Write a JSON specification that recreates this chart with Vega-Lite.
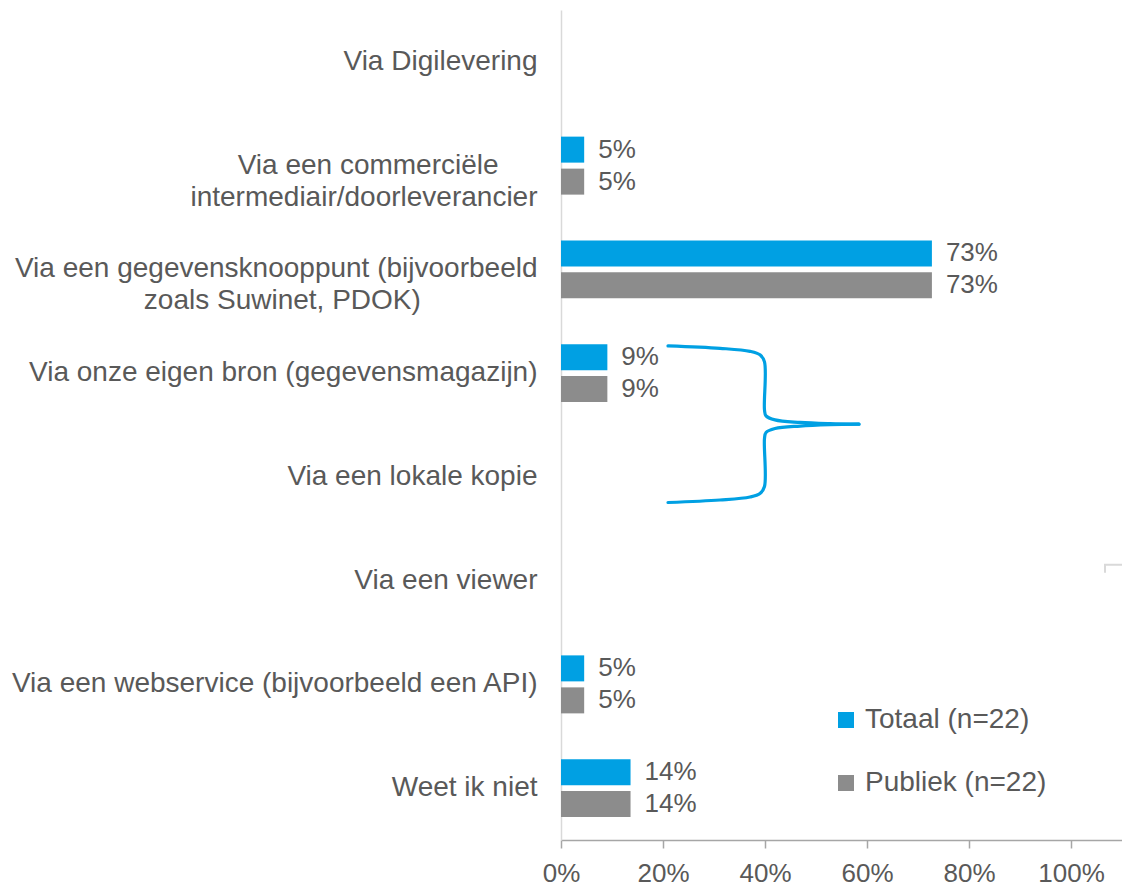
{
  "$schema": "https://vega.github.io/schema/vega-lite/v6.json",
  "width": 561,
  "height": 830,
  "autosize": {"type": "none"},
  "padding": {"left": 561, "top": 10, "right": 0, "bottom": 50},
  "background": "white",
  "config": {
    "font": "Liberation Sans",
    "view": {"stroke": null}
  },
  "datasets": {
    "bars": [
      {"category": "Via Digilevering", "series": "Totaal (n=22)", "value": 0},
      {"category": "Via Digilevering", "series": "Publiek (n=22)", "value": 0},
      {"category": "Via een commerciële intermediair/doorleverancier", "series": "Totaal (n=22)", "value": 0.04545},
      {"category": "Via een commerciële intermediair/doorleverancier", "series": "Publiek (n=22)", "value": 0.04545},
      {"category": "Via een gegevensknooppunt (bijvoorbeeld zoals Suwinet, PDOK)", "series": "Totaal (n=22)", "value": 0.72727},
      {"category": "Via een gegevensknooppunt (bijvoorbeeld zoals Suwinet, PDOK)", "series": "Publiek (n=22)", "value": 0.72727},
      {"category": "Via onze eigen bron (gegevensmagazijn)", "series": "Totaal (n=22)", "value": 0.09091},
      {"category": "Via onze eigen bron (gegevensmagazijn)", "series": "Publiek (n=22)", "value": 0.09091},
      {"category": "Via een lokale kopie", "series": "Totaal (n=22)", "value": 0},
      {"category": "Via een lokale kopie", "series": "Publiek (n=22)", "value": 0},
      {"category": "Via een viewer", "series": "Totaal (n=22)", "value": 0},
      {"category": "Via een viewer", "series": "Publiek (n=22)", "value": 0},
      {"category": "Via een webservice (bijvoorbeeld een API)", "series": "Totaal (n=22)", "value": 0.04545},
      {"category": "Via een webservice (bijvoorbeeld een API)", "series": "Publiek (n=22)", "value": 0.04545},
      {"category": "Weet ik niet", "series": "Totaal (n=22)", "value": 0.13636},
      {"category": "Weet ik niet", "series": "Publiek (n=22)", "value": 0.13636}
    ],
    "brace": [
      {"part": "top", "i": 1, "bx": 0.2098, "by": 2.737},
      {"part": "top", "i": 2, "bx": 0.3118, "by": 2.761},
      {"part": "top", "i": 3, "bx": 0.3706, "by": 2.790},
      {"part": "top", "i": 4, "bx": 0.3902, "by": 2.824},
      {"part": "top", "i": 5, "bx": 0.3990, "by": 2.892},
      {"part": "top", "i": 6, "bx": 0.3990, "by": 3.354},
      {"part": "top", "i": 7, "bx": 0.4020, "by": 3.412},
      {"part": "top", "i": 8, "bx": 0.4196, "by": 3.451},
      {"part": "top", "i": 9, "bx": 0.4686, "by": 3.475},
      {"part": "top", "i": 10, "bx": 0.5275, "by": 3.487},
      {"part": "top", "i": 11, "bx": 0.5843, "by": 3.492},
      {"part": "bottom", "i": 1, "bx": 0.5843, "by": 3.492},
      {"part": "bottom", "i": 2, "bx": 0.5275, "by": 3.497},
      {"part": "bottom", "i": 3, "bx": 0.4686, "by": 3.510},
      {"part": "bottom", "i": 4, "bx": 0.4196, "by": 3.534},
      {"part": "bottom", "i": 5, "bx": 0.4020, "by": 3.572},
      {"part": "bottom", "i": 6, "bx": 0.3990, "by": 3.630},
      {"part": "bottom", "i": 7, "bx": 0.3990, "by": 4.093},
      {"part": "bottom", "i": 8, "bx": 0.3902, "by": 4.160},
      {"part": "bottom", "i": 9, "bx": 0.3706, "by": 4.194},
      {"part": "bottom", "i": 10, "bx": 0.3118, "by": 4.223},
      {"part": "bottom", "i": 11, "bx": 0.2098, "by": 4.247}
    ],
    "corner": [
      {"part": "c", "i": 1, "bx": 1.1, "by": 4.848},
      {"part": "c", "i": 2, "bx": 1.0667, "by": 4.848},
      {"part": "c", "i": 3, "bx": 1.0667, "by": 4.925}
    ]
  },
  "layer": [
    {
      "data": {"name": "bars"},
      "layer": [
        {
          "mark": {"type": "bar"},
          "encoding": {
            "y": {
              "field": "category",
              "type": "nominal",
              "sort": null,
              "scale": {
                "domain": [
                  "Via Digilevering",
                  "Via een commerciële intermediair/doorleverancier",
                  "Via een gegevensknooppunt (bijvoorbeeld zoals Suwinet, PDOK)",
                  "Via onze eigen bron (gegevensmagazijn)",
                  "Via een lokale kopie",
                  "Via een viewer",
                  "Via een webservice (bijvoorbeeld een API)",
                  "Weet ik niet"
                ],
                "paddingInner": 0.441,
                "paddingOuter": 0.2205
              },
              "axis": {
                "title": null,
                "ticks": false,
                "domainColor": "#D9D9D9",
                "domainWidth": 1.5,
                "labelPadding": 24,
                "labelFontSize": 28,
                "labelColor": "#595959",
                "labelLimit": 0,
                "labelLineHeight": 32,
                "labelExpr": "datum.value == 'Via een commerciële intermediair/doorleverancier' ? ['Via een commerciële\u00a0\u00a0\u00a0\u00a0\u00a0\u200b', 'intermediair/doorleverancier'] : datum.value == 'Via een gegevensknooppunt (bijvoorbeeld zoals Suwinet, PDOK)' ? ['Via een gegevensknooppunt (bijvoorbeeld', 'zoals Suwinet, PDOK)\u00a0\u00a0\u00a0\u00a0\u00a0\u00a0\u00a0\u00a0\u00a0\u00a0\u00a0\u00a0\u00a0\u00a0\u00a0\u200b'] : datum.value"
              }
            },
            "yOffset": {
              "field": "series",
              "type": "nominal",
              "scale": {
                "domain": ["Totaal (n=22)", "Publiek (n=22)"],
                "paddingInner": 0.1875,
                "paddingOuter": 0
              }
            },
            "x": {
              "field": "value",
              "type": "quantitative",
              "scale": {"domain": [0, 1.1], "nice": false, "zero": true},
              "axis": {
                "title": null,
                "values": [0, 0.2, 0.4, 0.6, 0.8, 1.0],
                "format": ".0%",
                "grid": false,
                "domainColor": "#A6A6A6",
                "domainWidth": 1.5,
                "tickColor": "#A6A6A6",
                "tickWidth": 1.5,
                "tickSize": 8,
                "labelFontSize": 26,
                "labelColor": "#595959",
                "labelPadding": 12,
                "labelFlush": false
              }
            },
            "color": {
              "field": "series",
              "type": "nominal",
              "scale": {
                "domain": ["Totaal (n=22)", "Publiek (n=22)"],
                "range": ["#00A0E3", "#8C8C8C"]
              },
              "legend": {
                "title": null,
                "orient": "none",
                "legendX": 271,
                "legendY": 696,
                "symbolType": "square",
                "symbolSize": 256,
                "symbolStrokeWidth": 0,
                "labelFontSize": 28,
                "labelColor": "#595959",
                "labelOffset": 5,
                "rowPadding": 35,
                "labelLimit": 0
              }
            }
          }
        },
        {
          "transform": [{"filter": "datum.value > 0"}],
          "mark": {
            "type": "text",
            "align": "left",
            "baseline": "middle",
            "dx": 14,
            "fontSize": 26,
            "color": "#595959"
          },
          "encoding": {
            "y": {"field": "category", "type": "nominal", "sort": null},
            "yOffset": {"field": "series", "type": "nominal"},
            "x": {"field": "value", "type": "quantitative"},
            "text": {"field": "value", "type": "quantitative", "format": ".0%"}
          }
        }
      ]
    },
    {
      "data": {"name": "brace"},
      "mark": {
        "type": "line",
        "interpolate": "catmull-rom",
        "color": "#00A0E3",
        "strokeWidth": 3.2,
        "strokeCap": "round"
      },
      "encoding": {
        "x": {"field": "bx", "type": "quantitative"},
        "y": {
          "field": "by",
          "type": "quantitative",
          "scale": {"domain": [-0.5, 7.5], "reverse": true, "nice": false, "zero": false},
          "axis": null
        },
        "detail": {"field": "part", "type": "nominal"},
        "order": {"field": "i", "type": "quantitative"}
      }
    },
    {
      "data": {"name": "corner"},
      "mark": {
        "type": "line",
        "color": "#D9D9D9",
        "strokeWidth": 2
      },
      "encoding": {
        "x": {"field": "bx", "type": "quantitative"},
        "y": {
          "field": "by",
          "type": "quantitative",
          "scale": {"domain": [-0.5, 7.5], "reverse": true, "nice": false, "zero": false},
          "axis": null
        },
        "order": {"field": "i", "type": "quantitative"}
      }
    }
  ],
  "resolve": {"scale": {"y": "independent"}}
}
